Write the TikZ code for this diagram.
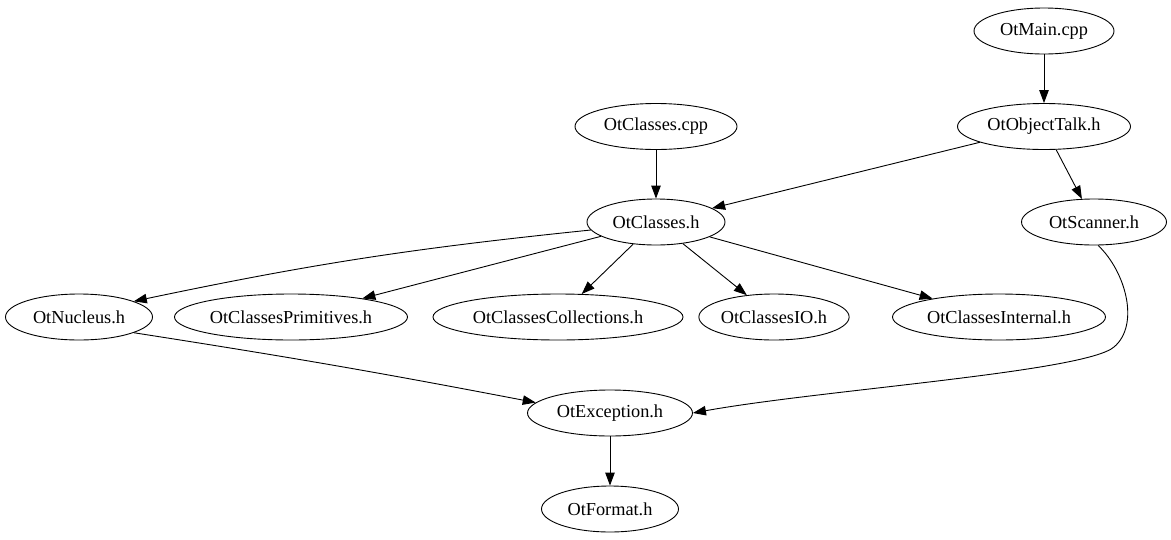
\documentclass[tikz,border=0pt]{standalone}
\usepackage{fontspec}
\setmainfont{Liberation Serif}
\usetikzlibrary{shapes.geometric,arrows.meta}
\begin{document}
\begin{tikzpicture}[x=1pt,y=-1pt,
  file/.style={draw,ellipse,line width=0.9pt,inner sep=0pt,minimum height=46pt,font=\fontsize{18.3}{22}\selectfont},
  dep/.style={line width=0.9pt,-{Triangle[length=13pt,width=9.5pt]}}]
\useasboundingbox (0,0) rectangle (1171,539);
\node[file,minimum width=140pt] (main) at (1044,31) {OtMain.cpp};
\node[file,minimum width=173pt] (ot) at (1044,126.5) {OtObjectTalk.h};
\node[file,minimum width=162pt] (ccpp) at (656,126.5) {OtClasses.cpp};
\node[file,minimum width=138pt] (ch) at (656,222) {OtClasses.h};
\node[file,minimum width=145pt] (scan) at (1094,222) {OtScanner.h};
\node[file,minimum width=147pt] (nuc) at (79,317) {OtNucleus.h};
\node[file,minimum width=233pt] (prim) at (291,317) {OtClassesPrimitives.h};
\node[file,minimum width=250pt] (coll) at (558,317) {OtClassesCollections.h};
\node[file,minimum width=136pt] (io) at (774,317) {OtClassesIO.h};
\node[file,minimum width=213pt] (int) at (999,317) {OtClassesInternal.h};
\node[file,minimum width=165pt] (exc) at (610,413) {OtException.h};
\node[file,minimum width=137pt] (fmt) at (610,509) {OtFormat.h};
\draw[dep] (main) -- (ot);
\draw[dep] (ccpp) -- (ch);
\draw[dep] (ot) -- (ch);
\draw[dep] (ot) -- (scan);
\draw[dep] (ch.187) to[bend right=3] (nuc.16);
\draw[dep] (ch) -- (prim);
\draw[dep] (ch) -- (coll);
\draw[dep] (ch) -- (io);
\draw[dep] (ch) -- (int);
\draw[dep] (nuc.-16) to[bend left=1] (exc.172);
\draw[dep] (scan.-80) .. controls (1126,272) and (1140,325) .. (1114,347)
  .. controls (1085,372) and (820,390) .. (exc.east);
\draw[dep] (exc) -- (fmt);
\end{tikzpicture}
\end{document}
